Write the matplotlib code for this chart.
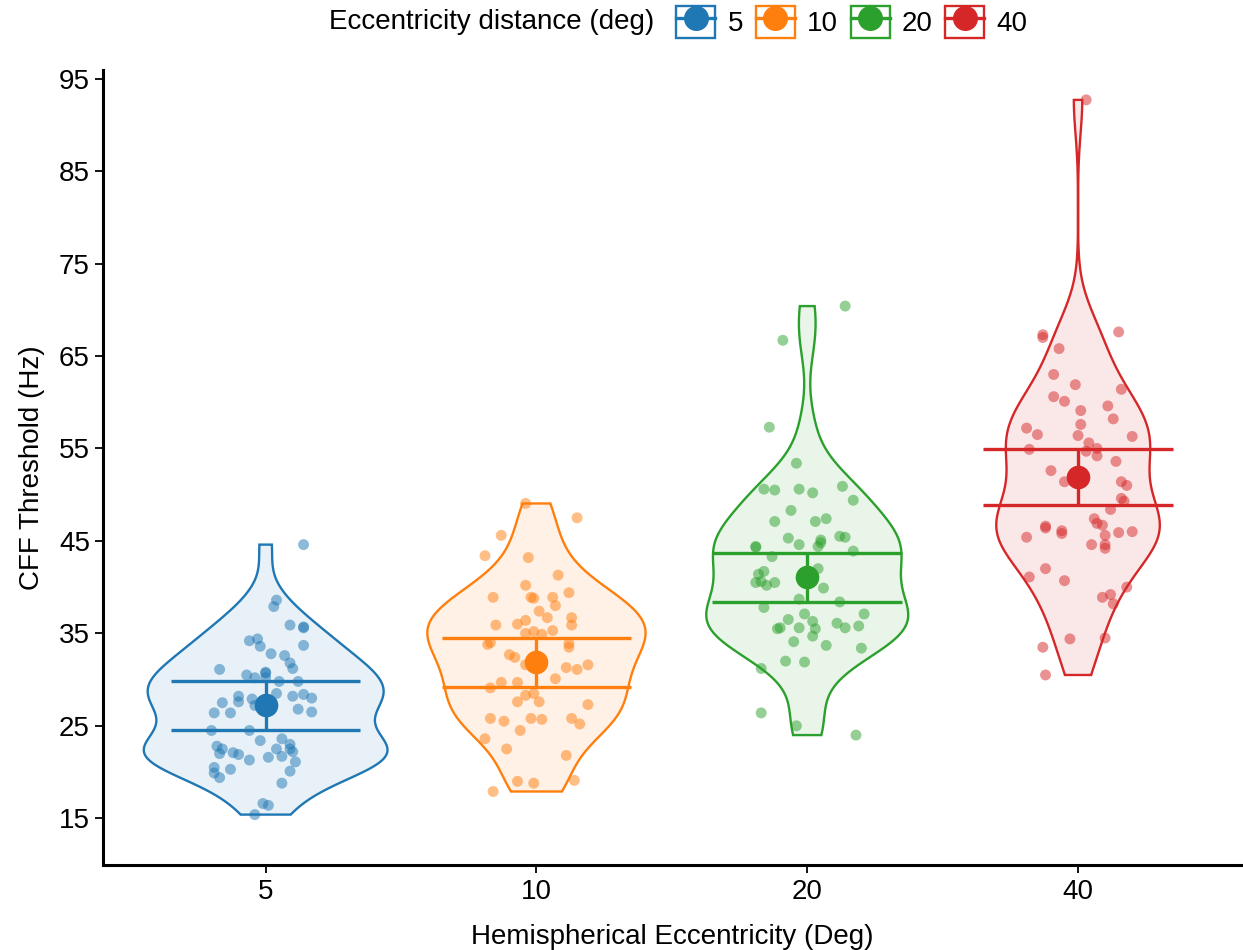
import numpy as np
import matplotlib.pyplot as plt
from matplotlib.lines import Line2D
from matplotlib.patches import Patch

plt.rcParams['font.family'] = ['Liberation Sans', 'DejaVu Sans']

# categorie (eccentricita in gradi)
groups = ['5', '10', '20', '40']
colors = ['#1f77b4', '#ff7f0e', '#2ca02c', '#d62728']

# valori: soglia CFF (Hz) e spostamento orizzontale del jitter
cff_5 = [44.6, 38.6, 37.9, 35.9, 35.6, 35.7, 34.2, 34.4, 33.6, 33.7, 32.8, 32.6, 31.8, 31.2, 31.1,
         30.8, 30.5, 30.2, 30.7, 30.2, 29.8, 29.8, 28.2, 27.6, 27.5, 27.9, 27.2, 28.5, 28.2, 28.4,
         28.0, 26.8, 26.5, 26.4, 26.4, 24.5, 24.5, 23.4, 23.6, 23.0, 22.8, 22.5, 22.0, 22.1, 21.9,
         22.5, 22.5, 22.2, 21.7, 21.6, 21.3, 21.1, 20.5, 20.3, 19.9, 19.4, 20.1, 18.8, 16.6, 16.4, 15.4]
jit_5 = [0.14, 0.04, 0.03, 0.09, 0.14, 0.14, -0.06, -0.03, -0.02, 0.14, 0.02, 0.07, 0.09, 0.10, -0.17,
         0.00, -0.07, -0.04, 0.00, 0.00, 0.05, 0.12, -0.10, -0.10, -0.16, -0.05, -0.04, 0.04, 0.10, 0.14,
         0.17, 0.12, 0.17, -0.19, -0.13, -0.20, -0.06, -0.02, 0.06, 0.09, -0.18, -0.16, -0.17, -0.12, -0.10,
         0.04, 0.09, 0.10, 0.06, 0.01, -0.06, 0.11, -0.19, -0.13, -0.19, -0.17, 0.09, 0.06, -0.01, 0.01, -0.04]

cff_10 = [49.05, 47.5, 45.6, 43.4, 43.2, 41.3, 40.2, 39.4, 38.9, 38.9, 38.8, 38.9, 38.0, 37.4, 36.7,
          36.7, 36.4, 36.0, 35.9, 35.9, 35.0, 35.2, 34.9, 35.3, 33.8, 34.0, 33.9, 33.5, 32.7, 32.4,
          31.6, 31.3, 31.1, 31.6, 30.1, 29.7, 29.7, 29.1, 28.3, 28.5, 27.6, 27.6, 27.3, 25.8, 25.5,
          25.8, 25.7, 25.8, 25.2, 24.5, 23.6, 22.5, 21.8, 19.1, 19.0, 18.8, 17.9]
jit_10 = [-0.04, 0.15, -0.13, -0.19, -0.03, 0.08, -0.04, 0.12, -0.16, -0.02, -0.01, 0.06, 0.07, 0.01, 0.04,
          0.13, -0.04, -0.07, -0.15, 0.13, -0.04, -0.01, 0.02, 0.06, -0.18, -0.17, 0.12, 0.12, -0.10, -0.08,
          -0.04, 0.11, 0.15, 0.19, 0.07, -0.13, -0.07, -0.17, -0.04, -0.01, -0.07, 0.01, 0.19, -0.17, -0.12,
          -0.02, 0.02, 0.13, 0.16, -0.06, -0.19, -0.11, 0.11, 0.14, -0.07, -0.01, -0.16]

cff_20 = [70.4, 66.7, 57.3, 53.4, 50.6, 50.5, 50.6, 50.2, 50.9, 49.4, 48.3, 47.1, 47.1, 47.4, 45.3,
          45.1, 45.5, 45.4, 44.6, 44.8, 44.4, 44.4, 44.3, 43.9, 43.3, 42.0, 41.7, 41.4, 40.5, 40.6,
          40.2, 40.5, 39.9, 38.7, 38.4, 37.8, 37.1, 37.1, 36.5, 36.3, 36.1, 35.5, 35.6, 35.6, 35.5,
          35.6, 35.8, 34.7, 34.1, 33.7, 33.4, 32.0, 31.9, 31.2, 26.4, 25.0, 24.0]
jit_20 = [0.14, -0.09, -0.14, -0.04, -0.16, -0.12, -0.03, 0.02, 0.13, 0.17, -0.06, -0.12, 0.03, 0.07, -0.07,
          0.05, 0.12, 0.14, -0.03, 0.05, 0.04, -0.19, -0.19, 0.17, -0.13, 0.04, -0.16, -0.18, -0.19, -0.17,
          -0.15, -0.12, 0.06, -0.03, 0.12, -0.16, -0.01, 0.21, -0.07, 0.02, 0.11, -0.11, -0.10, -0.03, 0.03,
          0.14, 0.19, 0.02, -0.05, 0.07, 0.20, -0.08, -0.01, -0.17, -0.17, -0.04, 0.18]

cff_40 = [92.7, 67.3, 67.0, 67.6, 65.8, 63.0, 61.9, 61.4, 60.6, 60.1, 59.1, 59.6, 58.2, 57.6, 57.2,
          56.5, 56.4, 56.3, 55.6, 55.0, 54.7, 54.2, 54.9, 53.6, 52.6, 51.4, 51.4, 51.0, 49.6, 49.3,
          48.4, 47.4, 46.9, 46.7, 46.6, 46.4, 46.1, 45.8, 45.9, 46.0, 45.4, 45.6, 44.6, 44.6, 44.2,
          42.0, 41.1, 40.7, 40.0, 39.2, 38.9, 38.2, 34.4, 34.5, 33.5, 30.5]
jit_40 = [0.03, -0.13, -0.13, 0.15, -0.07, -0.09, -0.01, 0.16, -0.09, -0.05, 0.01, 0.11, 0.13, 0.01, -0.19,
          -0.15, 0.00, 0.20, 0.04, 0.07, 0.03, 0.07, -0.18, 0.14, -0.10, -0.05, 0.16, 0.18, 0.16, 0.17,
          0.12, 0.06, 0.07, 0.09, -0.12, -0.12, -0.06, -0.06, 0.15, 0.20, -0.19, 0.10, 0.05, 0.10, 0.10,
          -0.12, -0.18, -0.05, 0.18, 0.12, 0.09, 0.13, -0.03, 0.10, -0.13, -0.12]

# media e limiti delle barre d'errore
means = [27.2, 31.9, 41.1, 51.9]
lower = [24.5, 29.2, 38.4, 48.9]
upper = [29.8, 34.5, 43.7, 54.9]

values = [cff_5, cff_10, cff_20, cff_40]
jitters = [jit_5, jit_10, jit_20, jit_40]


# densita' kernel come in R (bw.nrd0, taglio sul range dei dati)
def density(v):
    v = np.asarray(v)
    q75, q25 = np.percentile(v, [75, 25])
    bw = 0.9 * min(v.std(ddof=1), (q75 - q25) / 1.34) * len(v) ** -0.2
    y = np.linspace(v.min(), v.max(), 512)
    d = np.exp(-0.5 * ((y[:, None] - v[None, :]) / bw) ** 2).sum(axis=1)
    d = d / (len(v) * bw * np.sqrt(2 * np.pi))
    return y, d


fig = plt.figure(figsize=(12.43, 9.5), dpi=100)
ax = fig.add_axes([0.083, 0.089, 0.915, 0.837])

dens = [density(v) for v in values]
dmax = max(d.max() for _, d in dens)

for i, (v, jit, col) in enumerate(zip(values, jitters, colors)):
    x0 = i + 1
    y, d = dens[i]
    w = 0.45 * d / dmax
    xs = np.concatenate([x0 - w, (x0 + w)[::-1]])
    ys = np.concatenate([y, y[::-1]])
    ax.fill(xs, ys, facecolor=col, alpha=0.1, edgecolor='none', zorder=1)
    ax.fill(xs, ys, facecolor='none', edgecolor=col, lw=1.7, zorder=2)
    ax.scatter(x0 + np.asarray(jit), v, s=62, color=col, alpha=0.5, edgecolors='none', zorder=3)
    ax.hlines([lower[i], upper[i]], x0 - 0.35, x0 + 0.35, color=col, lw=2.4, zorder=4)
    ax.vlines(x0, lower[i], upper[i], color=col, lw=2.4, zorder=4)
    ax.plot(x0, means[i], 'o', color=col, ms=16, zorder=5)

ax.set_xlim(0.4, 4.6)
ax.set_ylim(9.9, 95.9)
ax.set_yticks([15, 25, 35, 45, 55, 65, 75, 85, 95])
ax.set_xticks([1, 2, 3, 4])
ax.set_xticklabels(groups)
ax.tick_params(labelsize=20, width=1.3, length=6, colors='black')
ax.set_xlabel('Hemispherical Eccentricity (Deg)', fontsize=20, labelpad=14)
ax.set_ylabel('CFF Threshold (Hz)', fontsize=20, labelpad=10)
for s in ['top', 'right']:
    ax.spines[s].set_visible(False)
for s in ['left', 'bottom']:
    ax.spines[s].set_linewidth(2.2)

# legenda in alto
handles = []
for col in colors:
    box = Patch(facecolor='white', edgecolor=col, lw=1.7)
    pt = Line2D([], [], color=col, lw=2.4, marker='o', ms=17)
    handles.append((box, pt))
fig.text(0.265, 0.977, 'Eccentricity distance (deg)', fontsize=20, ha='left', va='center')
fig.legend(handles, groups, loc='center left', bbox_to_anchor=(0.533, 0.977), ncol=4,
           frameon=False, fontsize=20, handlelength=1.4, handleheight=1.4,
           columnspacing=0.45, handletextpad=0.45, borderpad=0)

fig.savefig('out.png', dpi=100)
